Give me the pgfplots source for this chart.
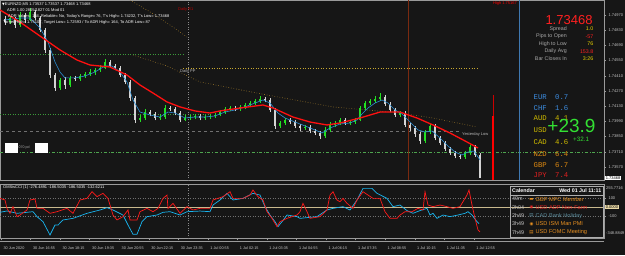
\documentclass[border=0pt]{standalone}
\usepackage{pgfplots}
\pgfplotsset{compat=1.18}
\usepackage{pgfplotstable}
\usepackage{fontspec}
\setmainfont{Liberation Sans}
\newfontfamily\monof{Liberation Mono}
\newfontfamily\symf{DejaVu Sans}
\newcommand\fs[1]{\fontsize{#1}{#1}\selectfont}
\definecolor{bg}{HTML}{161616}
\definecolor{frame}{HTML}{9A9A9A}
\definecolor{bull}{HTML}{22E022}
\definecolor{bear}{HTML}{D4D4D4}
\definecolor{maRed}{HTML}{FF1010}
\definecolor{maBlue}{HTML}{2A8FD6}
\definecolor{ccired}{HTML}{FF1A1A}
\definecolor{ccicyan}{HTML}{19B5F0}
\definecolor{tanline}{HTML}{C9B98E}
\definecolor{brownd}{HTML}{A07A2A}
\definecolor{yellowd}{HTML}{C8A830}
\definecolor{greend}{HTML}{3A9A3A}
\definecolor{dayred}{HTML}{7A2A10}
\definecolor{sepblue}{HTML}{3F78B0}
\definecolor{lbl}{HTML}{C8C8C8}
\definecolor{pgray}{HTML}{A8A8A8}
\definecolor{dgray}{HTML}{707070}
\definecolor{sgray}{HTML}{8A8A8A}
\definecolor{valyel}{HTML}{E8D200}
\definecolor{valred}{HTML}{FF2020}
\definecolor{curblue}{HTML}{3C8CE0}
\definecolor{curyel}{HTML}{D0BC00}
\definecolor{curorg}{HTML}{E08A10}
\definecolor{curred}{HTML}{E02020}
\definecolor{biggreen}{HTML}{33E033}
\definecolor{calorg}{HTML}{E89020}
\definecolor{calred}{HTML}{E02020}
\definecolor{calteal}{HTML}{5A8A9A}
\definecolor{zerobox}{HTML}{EAD9A6}

% bearish candles: x open high low close
\pgfplotstableread{
x o h l c
5 1.74930 1.74960 1.74880 1.74905
15 1.74942 1.74955 1.74850 1.74878
25 1.74970 1.74990 1.74900 1.74924
35 1.74998 1.75020 1.74920 1.74942
40 1.74942 1.74960 1.74810 1.74832
45 1.74832 1.74850 1.74620 1.74648
50 1.74648 1.74670 1.74390 1.74417
55 1.74417 1.74440 1.74270 1.74298
65 1.74371 1.74395 1.74290 1.74325
75 1.74390 1.74412 1.74360 1.74380
110 1.74537 1.74555 1.74480 1.74500
115 1.74500 1.74520 1.74460 1.74482
120 1.74482 1.74500 1.74395 1.74417
125 1.74417 1.74435 1.74330 1.74353
130 1.74353 1.74370 1.74180 1.74205
135 1.74205 1.74225 1.73975 1.74003
150 1.74076 1.74095 1.74035 1.74058
155 1.74058 1.74075 1.74000 1.74021
170 1.74113 1.74130 1.74085 1.74104
175 1.74104 1.74120 1.74045 1.74067
180 1.74067 1.74085 1.73980 1.74003
200 1.74040 1.74055 1.74000 1.74021
235 1.74113 1.74130 1.74085 1.74104
265 1.74196 1.74215 1.74165 1.74187
270 1.74187 1.74205 1.74075 1.74095
275 1.74095 1.74110 1.73920 1.73948
290 1.74003 1.74020 1.73965 1.73984
295 1.73984 1.74000 1.73925 1.73948
300 1.73948 1.73965 1.73905 1.73929
310 1.73938 1.73955 1.73880 1.73901
315 1.73901 1.73920 1.73860 1.73883
320 1.73883 1.73900 1.73830 1.73855
345 1.74003 1.74020 1.73955 1.73975
385 1.74215 1.74230 1.74130 1.74150
390 1.74150 1.74165 1.74075 1.74095
395 1.74095 1.74110 1.74030 1.74049
405 1.74067 1.74085 1.73935 1.73957
410 1.73957 1.73975 1.73905 1.73929
415 1.73929 1.73945 1.73850 1.73874
420 1.73874 1.73890 1.73785 1.73809
435 1.73948 1.73965 1.73815 1.73837
440 1.73837 1.73855 1.73770 1.73791
445 1.73791 1.73810 1.73715 1.73736
450 1.73736 1.73755 1.73680 1.73699
455 1.73699 1.73715 1.73650 1.73671
460 1.73671 1.73690 1.73640 1.73662
475 1.73754 1.73770 1.73660 1.73680
480 1.73680 1.73700 1.73468 1.73468
}\bear

% bullish candles: x open high low close
\pgfplotstableread{
x o h l c
10 1.74905 1.74965 1.74890 1.74942
20 1.74878 1.74995 1.74860 1.74970
30 1.74924 1.75030 1.74910 1.74998
60 1.74298 1.74390 1.74280 1.74371
70 1.74325 1.74410 1.74305 1.74390
80 1.74380 1.74430 1.74365 1.74408
85 1.74408 1.74445 1.74390 1.74426
90 1.74426 1.74468 1.74410 1.74445
95 1.74445 1.74485 1.74420 1.74463
100 1.74463 1.74505 1.74445 1.74482
105 1.74482 1.74560 1.74470 1.74537
140 1.74003 1.74050 1.73985 1.74021
145 1.74021 1.74100 1.74005 1.74076
160 1.74021 1.74055 1.74005 1.74030
165 1.74030 1.74140 1.74015 1.74113
185 1.74003 1.74045 1.73990 1.74021
190 1.74021 1.74050 1.74005 1.74030
195 1.74030 1.74060 1.74015 1.74040
205 1.74021 1.74050 1.74005 1.74030
210 1.74030 1.74060 1.74015 1.74040
215 1.74040 1.74070 1.74025 1.74049
220 1.74049 1.74095 1.74035 1.74076
225 1.74076 1.74125 1.74060 1.74104
230 1.74104 1.74135 1.74090 1.74113
240 1.74104 1.74145 1.74090 1.74123
245 1.74123 1.74160 1.74105 1.74141
250 1.74141 1.74180 1.74125 1.74159
255 1.74159 1.74200 1.74140 1.74178
260 1.74178 1.74225 1.74160 1.74196
280 1.73948 1.73995 1.73930 1.73975
285 1.73975 1.74025 1.73960 1.74003
305 1.73929 1.73960 1.73915 1.73938
325 1.73855 1.73935 1.73840 1.73911
330 1.73911 1.73980 1.73895 1.73957
335 1.73957 1.73995 1.73940 1.73975
340 1.73975 1.74025 1.73960 1.74003
350 1.73975 1.74005 1.73960 1.73984
355 1.73984 1.74025 1.73965 1.74003
360 1.74003 1.74135 1.73990 1.74113
365 1.74113 1.74180 1.74095 1.74159
370 1.74159 1.74200 1.74140 1.74178
375 1.74178 1.74220 1.74160 1.74196
380 1.74196 1.74250 1.74180 1.74215
400 1.74049 1.74090 1.74030 1.74067
425 1.73809 1.73915 1.73790 1.73892
430 1.73892 1.73970 1.73875 1.73948
465 1.73662 1.73720 1.73645 1.73699
470 1.73699 1.73775 1.73680 1.73754
}\bull

\begin{document}
\begin{tikzpicture}[x=1pt,y=1pt]
\useasboundingbox (0,0) rectangle (625,255);
\fill[bg] (0,0) rectangle (625,255);

% ---------------- main price panel ----------------
\begin{axis}[
  at={(0pt,75pt)}, anchor=south west,
  scale only axis, width=604pt, height=180pt,
  xmin=0, xmax=604, ymin=1.7345, ymax=1.75108,
  axis line style={draw=frame, line width=0.5pt},
  xtick=\empty,
  ytick={1.7357,1.7371,1.7385,1.7399,1.7413,1.7427,1.7441,1.7455,1.7469,1.7483,1.7497},
  yticklabels={1.73570,1.73710,1.73850,1.73990,1.74130,1.74270,1.74410,1.74550,1.74690,1.74830,1.74970},
  ytick pos=right,
  y tick label style={font=\fs{4}, text=lbl, xshift=-1pt},
  tick style={draw=frame, line width=0.4pt},
  major tick length=2pt, tick align=outside,
]
% reference levels
\addplot[greend, dotted, line width=0.5pt] coordinates {(0,1.74611) (183,1.74611)};
\addplot[greend, dotted, line width=0.5pt] coordinates {(0,1.74058) (210,1.74058)};
\addplot[yellowd, dotted, line width=0.6pt] coordinates {(183,1.74482) (478,1.74482)};
\addplot[dgray, dashed, line width=0.5pt] coordinates {(0,1.73901) (460,1.73901)};
\addplot[greend!90!white, dash dot, line width=0.6pt] coordinates {(0,1.73708) (604,1.73708)};
\addplot[brownd, dotted, line width=0.6pt] coordinates {(130,1.75108) (150,1.74998) (170,1.74878) (187,1.74767)};
\addplot[brownd, dotted, line width=0.6pt] coordinates {(133,1.74601) (167,1.74500) (200,1.74353) (267,1.74233) (333,1.74123) (400,1.74067) (433,1.74021) (477,1.73938)};
% vertical lines
\addplot[sgray, dotted, line width=0.5pt] coordinates {(188,1.7345) (188,1.75108)};
\addplot[dayred, line width=0.8pt] coordinates {(408,1.7345) (408,1.75108)};
\addplot[sepblue, line width=0.5pt] coordinates {(519,1.7345) (519,1.75108)};
\addplot[red!80!black, line width=0.5pt] coordinates {(493,1.7345) (493,1.74233)};
\addplot[red, line width=1.6pt] coordinates {(493,1.7345) (493,1.74040)};
% candle wicks (low to high) and bodies (open to close)
\addplot[bear, line width=0.5pt, quiver={u=0, v={\thisrow{h}-\thisrow{l}}}] table[x=x, y=l] {\bear};
\addplot[bull, line width=0.5pt, quiver={u=0, v={\thisrow{h}-\thisrow{l}}}] table[x=x, y=l] {\bull};
\addplot[bear, line width=2.2pt, quiver={u=0, v={\thisrow{c}-\thisrow{o}}}] table[x=x, y=o] {\bear};
\addplot[bull, line width=2.2pt, quiver={u=0, v={\thisrow{c}-\thisrow{o}}}] table[x=x, y=o] {\bull};
% moving averages
\addplot[maBlue, line width=0.6pt] coordinates {
(5,1.74924) (20,1.74942) (30,1.74942) (40,1.74850) (48,1.74721) (55,1.74537) (60,1.74445) (65,1.74390)
(75,1.74390) (85,1.74408) (95,1.74445) (105,1.74500) (112,1.74500) (120,1.74445) (127,1.74353) (133,1.74187)
(140,1.74076) (150,1.74049) (160,1.74030) (168,1.74076) (175,1.74067) (185,1.74021) (195,1.74030) (205,1.74030)
(215,1.74040) (225,1.74076) (235,1.74095) (245,1.74123) (255,1.74159) (263,1.74187) (270,1.74159) (278,1.74067)
(285,1.74021) (295,1.73984) (305,1.73948) (315,1.73911) (322,1.73883) (330,1.73929) (340,1.73966) (350,1.73975)
(357,1.74003) (362,1.74058) (368,1.74113) (375,1.74159) (382,1.74187) (388,1.74159) (395,1.74095) (402,1.74058)
(410,1.73984) (418,1.73911) (425,1.73892) (432,1.73901) (440,1.73837) (448,1.73763) (455,1.73708) (462,1.73680)
(468,1.73708) (474,1.73717) (480,1.73634)};
\addplot[maRed, line width=1.3pt] coordinates {
(0,1.75016) (20,1.74905) (40,1.74776) (60,1.74648) (77,1.74555) (90,1.74509) (110,1.74491) (127,1.74417)
(140,1.74325) (153,1.74251) (167,1.74169) (180,1.74123) (195,1.74086) (210,1.74067) (220,1.74086) (240,1.74113)
(263,1.74141) (273,1.74113) (293,1.74030) (310,1.73984) (327,1.73957) (340,1.73975) (360,1.74021) (380,1.74076)
(400,1.74076) (417,1.74021) (433,1.73957) (450,1.73883) (467,1.73800) (478,1.73745)};
\end{axis}

% ---------------- CCI panel ----------------
\begin{axis}[
  at={(0pt,16.6pt)}, anchor=south west,
  scale only axis, width=604pt, height=54.4pt,
  xmin=0, xmax=604, ymin=-348.8849, ymax=255.7716,
  axis line style={draw=frame, line width=0.5pt},
  xtick={1,30.55,60.1,89.65,119.2,148.75,178.3,207.85,237.4,266.95,296.5,326.05,355.6,385.15,414.7,444.25,473.8},
  xticklabels={30 Jun 2020,30 Jun 16:55,30 Jun 18:15,30 Jun 19:35,30 Jun 20:55,30 Jun 22:15,30 Jun 23:35,1 Jul 00:55,1 Jul 02:15,1 Jul 03:35,1 Jul 04:55,1 Jul 06:15,1 Jul 07:35,1 Jul 08:55,1 Jul 10:15,1 Jul 11:35,1 Jul 12:55},
  xtick pos=bottom,
  x tick label style={font=\fs{3.8}, text=lbl, anchor=north west, xshift=-1pt, yshift=-2.5pt},
  ytick={-100,100}, yticklabels={-100,100},
  ytick pos=right,
  y tick label style={font=\fs{4}, text=lbl, xshift=-1pt},
  extra y ticks={0}, extra y tick labels={0.0000},
  extra y tick style={yticklabel style={fill=zerobox, text=black, inner sep=0.6pt}},
  tick style={draw=frame, line width=0.4pt},
  major tick length=2pt, tick align=outside,
]
\addplot[dgray, dotted, line width=0.5pt] coordinates {(0,100) (604,100)};
\addplot[dgray, dotted, line width=0.5pt] coordinates {(0,-100) (604,-100)};
\addplot[tanline, line width=0.8pt] coordinates {(0,0) (604,0)};
\addplot[sgray, dotted, line width=0.5pt] coordinates {(188,-348.8849) (188,255.7716)};
\addplot[ccicyan, line width=0.7pt] coordinates {
(0,-59) (7,-44) (17,-70) (33,-52) (37,-107) (43,-163) (50,-311) (55,-200) (58,-200) (63,-144) (73,-126)
(87,-70) (100,-33) (107,-7) (113,-33) (123,-89) (128,-200) (133,-303) (137,-303) (142,-163) (147,-107)
(157,-89) (163,-59) (170,-52) (180,-89) (187,-52) (200,-45) (210,-52) (213,22) (220,78) (227,152) (233,78)
(243,96) (253,152) (260,133) (265,4) (270,-89) (275,-163) (278,-218) (282,-163) (287,-89) (297,-107)
(300,-126) (317,-107) (327,-33) (333,-15) (343,4) (350,-33) (357,78) (363,207) (372,207) (377,152) (387,96)
(393,4) (400,22) (407,-40) (413,-70) (420,-40) (427,-15) (430,-89) (433,-70) (437,-126) (443,-89) (450,-107)
(458,-89) (465,-70) (468,-52) (472,-89) (477,-163) (479,-186)};
\addplot[ccired, line width=0.7pt] coordinates {
(0,96) (5,78) (7,-15) (10,-70) (13,4) (17,-107) (20,-89) (27,-33) (30,78) (35,89) (37,-15) (43,-15)
(50,-70) (57,-52) (67,-15) (73,-70) (80,78) (87,96) (92,170) (97,115) (103,152) (108,96) (113,-89)
(117,-144) (123,-107) (128,-33) (130,-144) (137,-144) (140,-52) (147,-15) (153,-52) (158,-15) (163,96)
(167,133) (168,-15) (173,41) (180,-70) (187,4) (193,-33) (200,-15) (210,-15) (213,78) (223,115) (230,170)
(233,96) (243,96) (250,133) (253,189) (258,115) (263,78) (267,-52) (272,-126) (277,-218) (280,-163)
(287,-126) (297,-89) (300,-52) (303,41) (307,-52) (310,-126) (320,-107) (327,-33) (330,133) (333,170)
(337,78) (340,59) (343,96) (347,41) (353,-15) (357,78) (363,170) (373,96) (380,96) (385,-52) (390,-126)
(397,-126) (400,-89) (405,-52) (412,-52) (418,-15) (423,-33) (425,170) (428,22) (433,4) (440,22) (447,4)
(453,-15) (460,4) (467,133) (469,189) (472,22) (475,-126) (478,-255) (480,-276)};
\end{axis}

% ---------------- overlays (pixel coordinates, y downwards) ----------------
\begin{scope}[shift={(0pt,255pt)}, x=1pt, y=-1pt, every node/.style={inner sep=0pt}]
\draw[frame, line width=0.5pt] (0,241) -- (604,241);
% top-left info
\node[anchor=west, font=\fs{4}, text=white] at (2,4) {{\symf\fs{3.5}▼}EURNZD,M5  1.73537 1.73537 1.73468 1.73468};
\node[anchor=west, font=\fs{4}, text=white] at (7,10.5) {ADR 1.00 2805/1827 01 Mod 01};
\node[anchor=west, font=\fs{4}, text=white] at (8,16.5) {ADR Values: 164, Reliable= No, Today's Range= 76, T's High= 1.74232, T's Low= 1.73468};
\node[anchor=west, font=\fs{4}, text=white] at (3,22.5) {Target High= 1.75107, Target Low= 1.72593 / To ADR High= 164, To ADR Low= 87};
% level labels
\node[anchor=west, font=\fs{4}, text=red!75!black] at (178,9) {Daily R1};
\node[anchor=west, font=\fs{4}, text=pgray!80] at (180,71.5) {Daily PP};
\node[anchor=west, font=\fs{4}, text=pgray!80] at (462,134.5) {Yesterday Low};
\node[anchor=east, font=\fs{4}, text=red] at (517,3.5) {High 1.75167};
\fill[white] (5,143) rectangle (18,153);
\fill[white] (35,143) rectangle (48,153);
\node[anchor=west, font=\fs{3.6}, text=pgray] at (18.5,148) {070 pd};
% info panel
\node[font=\fs{13}, text=valred] at (569,20) {1.73468};
\foreach \yy/\lab/\val/\col in {29/Spread/1.0/valyel, 36.5/Pips to Open/-57/valred, 44/High to Low/76/valyel, 51.5/Daily Avg/153.8/valred, 59/Bar Closes In/3:26/valyel}{
  \node[anchor=east, font=\fs{5.3}, text=pgray] at (567,\yy) {\lab};
  \node[anchor=east, font=\fs{5.3}, text=\col] at (593.5,\yy) {\val};
}
% currency strength
\foreach \yy/\cur/\val/\col in {97/EUR/0.7/curblue, 108/CHF/1.6/curblue, 118.5/AUD/4.1/curyel, 142/CAD/4.6/curyel, 154/NZD/6.4/curorg, 165/GBP/6.7/curorg, 175.5/JPY/7.4/curred}{
  \node[anchor=west, font=\monof\fs{7.3}, text=\col] at (533.5,\yy) {\cur};
  \node[anchor=west, font=\monof\fs{7.3}, text=\col] at (555,\yy) {\val};
}
\node[anchor=west, font=\monof\fs{7.3}, text=curyel] at (533.5,130) {USD};
\node[font=\fs{19}, text=biggreen] at (571.5,126) {+23.9};
\node[anchor=west, font=\fs{6.3}, text=biggreen] at (573,139.5) {+32.1};
% price tags
\node[fill=white, text=black, font=\fs{4}, inner sep=0.6pt, anchor=west] at (605,178) {1.73468};
\node[anchor=west, font=\fs{4}, text=lbl] at (606,188) {255.7716};
\node[anchor=west, font=\fs{4}, text=lbl] at (606,233) {-348.8849};
% CCI header
\node[anchor=west, font=\fs{4}, text=white] at (3,187.5) {OMSisCCI (1) -276.4891 -186.5035 -186.5035 -132.6211};
% calendar
\draw[frame!80, line width=0.4pt] (510,186) rectangle (603,237.5);
\draw[frame!80, line width=0.4pt] (510,195) -- (603,195);
\node[anchor=west, font=\fs{5.3}\bfseries, text=white] at (512,190.5) {Calendar};
\node[anchor=east, font=\fs{5.3}\bfseries, text=white] at (601.5,190.5) {Wed 01 Jul 11:11};
\foreach \yy/\tm/\ic/\nm/\col in {199/49m/▬/GBP MPC Member/calorg, 207.3/2h04/◉/USD ADP Non-Farm/calred, 215.7/2h49/▤/CAD Bank Holiday/calteal, 224/3h49/◉/USD ISM Man PMI/calorg, 232.3/7h49/▤/USD FOMC Meeting/calorg}{
  \node[anchor=west, font=\fs{5.4}, text=lbl] at (512,\yy) {\tm};
  \node[font=\symf\fs{4.5}, text=\col] at (531.5,\yy) {\ic};
  \node[anchor=west, font=\fs{5.6}, text=\col] at (535.5,\yy) {\nm};
}
\end{scope}
\end{tikzpicture}
\end{document}
